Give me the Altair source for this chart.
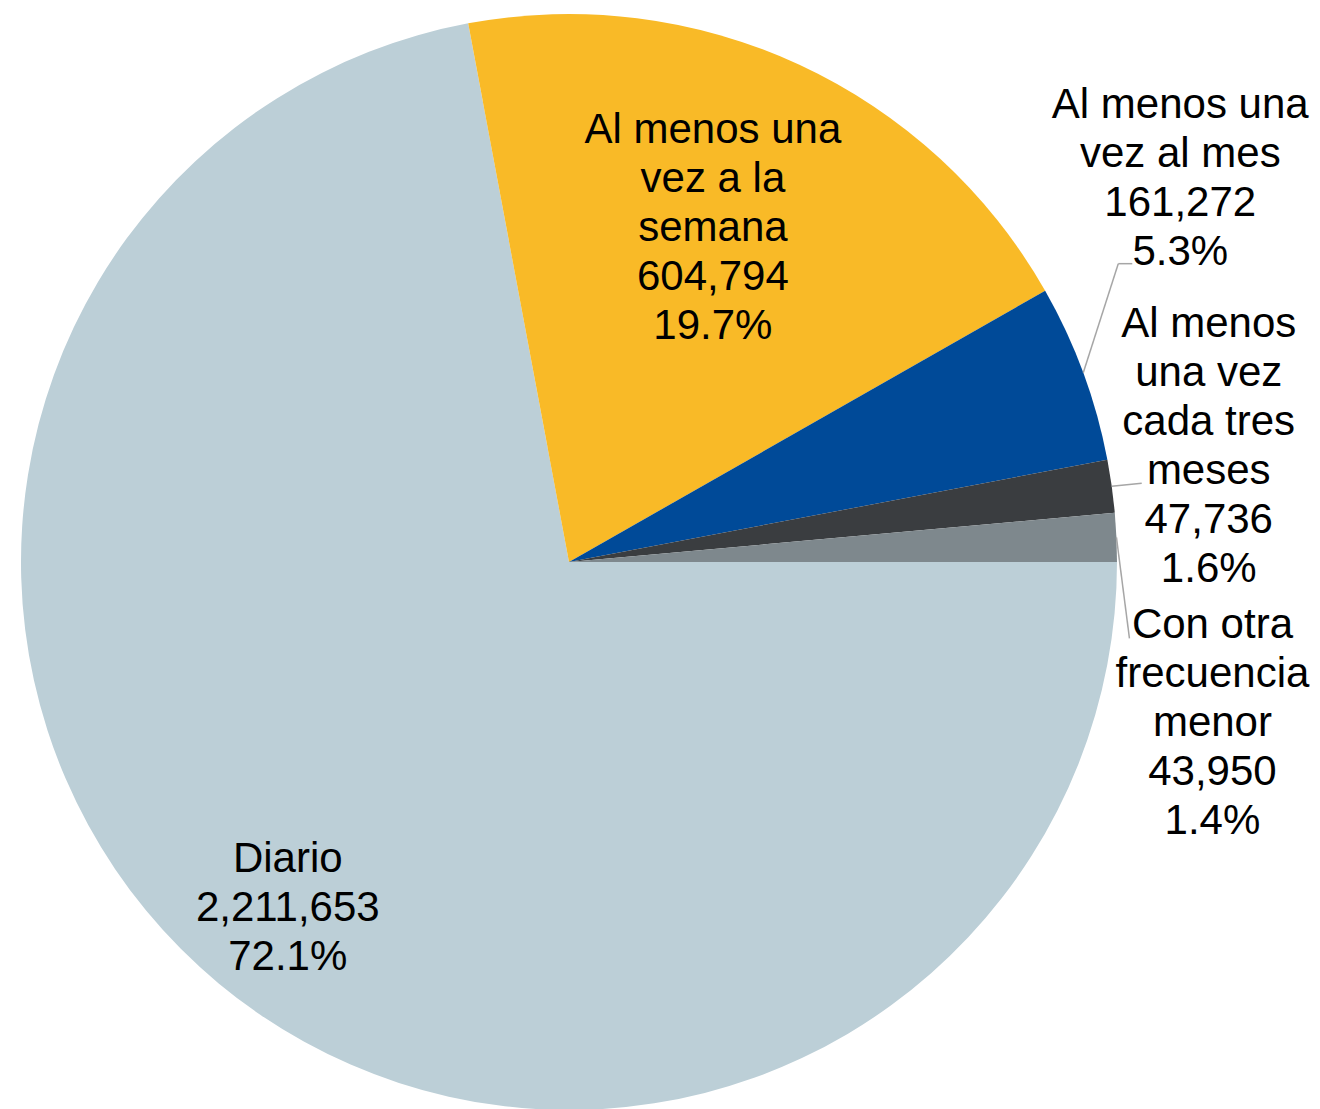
import math
import altair as alt
import pandas as pd

# ---------------- data ----------------
categories = [
    "Diario",
    "Al menos una vez a la semana",
    "Al menos una vez al mes",
    "Al menos una vez cada tres meses",
    "Con otra frecuencia menor",
]
values = [2211653, 604794, 161272, 47736, 43950]
label_names = [
    "Diario",
    "Al menos una\nvez a la\nsemana",
    "Al menos una\nvez al mes",
    "Al menos\nuna vez\ncada tres\nmeses",
    "Con otra\nfrecuencia\nmenor",
]

# ---------------- style / layout ----------------
colors = ["#BCCFD7", "#F9BA27", "#004A98", "#3A3D40", "#7E888D"]
W, H = 1304, 1101          # plot area (page has 8px margin)
CX, CY, R = 561, 554, 548  # pie centre and radius in plot pixels
START = math.pi / 2        # first slice starts at 3 o'clock, clockwise
LH = 49                    # label line height

label_r = [445, 366, R, R, R]
label_dx = [3, -10, 97, 97, 96]
label_dy = [4, -2, -194, -40, 186]
elbow_dx = [0, 0, 35, 30, 13]
elbow_dy = [0, 0, -109, -3, 101]
end_dx = [0, 0, 49, 30, 13]
end_dy = [0, 0, -109, -3, 101]
has_leader = [False, False, True, True, True]

df = pd.DataFrame({
    "categoria": categories,
    "valor": values,
    "orden": list(range(len(categories))),
    "etiqueta": label_names,
    "lab_r": label_r,
    "lab_dx": label_dx,
    "lab_dy": label_dy,
    "elb_dx": elbow_dx,
    "elb_dy": elbow_dy,
    "end_dx": end_dx,
    "end_dy": end_dy,
    "leader": has_leader,
})

base = (
    alt.Chart(df)
    .transform_joinaggregate(total="sum(valor)")
    .transform_window(cum="sum(valor)", sort=[alt.SortField("orden", order="ascending")])
    .transform_calculate(mid=f"2*PI*(datum.cum - datum.valor/2)/datum.total + {START}")
    .transform_calculate(
        txt="datum.etiqueta + '\\n' + format(datum.valor, ',') + '\\n' + format(datum.valor / datum.total, '.1%')"
    )
    .transform_calculate(nl="length(split(datum.txt, '\\n'))")
    .transform_calculate(ex=f"{CX} + {R}*sin(datum.mid)")
    .transform_calculate(ey=f"{CY} - {R}*cos(datum.mid)")
    .transform_calculate(lx=f"{CX} + datum.lab_r*sin(datum.mid) + datum.lab_dx")
    .transform_calculate(
        ly=f"{CY} - datum.lab_r*cos(datum.mid) + datum.lab_dy - (datum.nl - 1)*{LH}/2"
    )
    .transform_calculate(bx="datum.ex + datum.elb_dx")
    .transform_calculate(by="datum.ey + datum.elb_dy")
    .transform_calculate(fx="datum.ex + datum.end_dx")
    .transform_calculate(fy="datum.ey + datum.end_dy")
)

arcs = base.mark_arc(radius=R).encode(
    theta=alt.Theta("valor:Q", stack=True,
                    scale=alt.Scale(range=[START, START + 2 * math.pi])),
    order=alt.Order("orden:Q", sort="ascending"),
    color=alt.Color("categoria:N",
                    scale=alt.Scale(domain=categories, range=colors),
                    legend=None),
    x=alt.value(CX),
    y=alt.value(CY),
)

lead1 = base.transform_filter("datum.leader").mark_rule(
    color="#A6A6A6", strokeWidth=1.5
).encode(
    x=alt.X("ex:Q", scale=None, axis=None),
    y=alt.Y("ey:Q", scale=None, axis=None),
    x2="bx:Q",
    y2="by:Q",
)

lead2 = base.transform_filter("datum.leader").mark_rule(
    color="#A6A6A6", strokeWidth=1.5
).encode(
    x=alt.X("bx:Q", scale=None, axis=None),
    y=alt.Y("by:Q", scale=None, axis=None),
    x2="fx:Q",
    y2="fy:Q",
)

labels = base.mark_text(
    font="Liberation Sans",
    fontSize=42,
    lineHeight=LH,
    lineBreak="\n",
    align="center",
    baseline="middle",
    color="#000000",
).encode(
    x=alt.X("lx:Q", scale=None, axis=None),
    y=alt.Y("ly:Q", scale=None, axis=None),
    text="txt:N",
)

chart = (
    alt.layer(arcs, lead1, lead2, labels)
    .properties(width=W, height=H, padding=0,
                autosize=alt.AutoSizeParams(type="none"),
                background="white")
    .configure_view(stroke=None)
)

chart.save("out.html", embed_options={"renderer": "svg", "actions": False})
